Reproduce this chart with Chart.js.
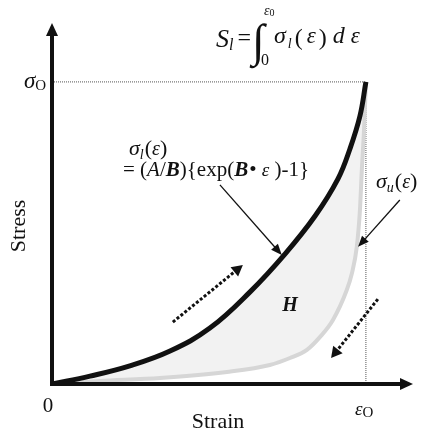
<!DOCTYPE html>
<html>
<head>
<meta charset="utf-8">
<script src="https://cdn.jsdelivr.net/npm/chart.js@4"></script>
<style>
  html, body { margin: 0; padding: 0; background: #fff; }
  canvas { display: block; }
</style>
</head>
<body>
<canvas id="chart" width="434" height="437"></canvas>
<script>
// loading curve sigma_l (strain / eps0, stress / sigma0)
const loadStrain = [0, 0.121, 0.248, 0.376, 0.503, 0.631, 0.742, 0.838, 0.911, 0.949, 0.981, 1.0];
const loadStress = [0, 0.026, 0.060, 0.109, 0.185, 0.305, 0.430, 0.556, 0.679, 0.778, 0.887, 1.0];

// unloading curve sigma_u
const unloadStrain = [0, 0.153, 0.344, 0.557, 0.694, 0.758, 0.812, 0.854, 0.895, 0.939, 0.955, 0.971, 0.981, 0.987, 0.994, 1.0];
const unloadStress = [0, 0.010, 0.020, 0.040, 0.063, 0.086, 0.113, 0.156, 0.212, 0.311, 0.365, 0.454, 0.576, 0.709, 0.841, 1.0];

// reference lines at sigma0 and eps0
const refStrain = [0, 1, 1];
const refStress = [1, 1, 0];

// annotation arrows [fromStrain, fromStress, toStrain, toStress]
const solidArrows = [
    [0.535, 0.659, 0.732, 0.427],
    [1.108, 0.609, 0.975, 0.454]
];
const dottedArrows = [
    [0.385, 0.205, 0.608, 0.394],
    [1.038, 0.281, 0.889, 0.086]
];

const toPoints = (xs, ys) => xs.map((x, i) => ({ x: x, y: ys[i] }));

const SERIF = '"Liberation Serif", "DejaVu Serif", serif';

function runs(ctx, x, y, parts) {
    // draws pieces of text one after another on a common baseline
    parts.forEach(p => {
        ctx.font = p[1] + ' ' + SERIF;
        ctx.fillText(p[0], x, y + (p[2] || 0));
        x += ctx.measureText(p[0]).width + (p[3] || 0);
    });
}

function arrowHead(ctx, x0, y0, x1, y1, len, half) {
    const a = Math.atan2(y1 - y0, x1 - x0);
    ctx.beginPath();
    ctx.moveTo(x1, y1);
    ctx.lineTo(x1 - len * Math.cos(a) + half * Math.sin(a), y1 - len * Math.sin(a) - half * Math.cos(a));
    ctx.lineTo(x1 - len * Math.cos(a) - half * Math.sin(a), y1 - len * Math.sin(a) + half * Math.cos(a));
    ctx.closePath();
    ctx.fill();
}

const drawings = {
    id: 'drawings',
    afterDraw(chart) {
        const ctx = chart.ctx;
        const sx = chart.scales.x, sy = chart.scales.y;
        const px = v => sx.getPixelForValue(v);
        const py = v => sy.getPixelForValue(v);
        const ox = px(0), oy = py(0);
        const ca = chart.chartArea;

        ctx.save();
        ctx.fillStyle = '#111';
        ctx.strokeStyle = '#111';

        // axes with arrow heads
        ctx.lineWidth = 4;
        ctx.beginPath();
        ctx.moveTo(ox, oy);
        ctx.lineTo(ox, ca.top + 10);
        ctx.moveTo(ox - 2, oy);
        ctx.lineTo(ca.right - 10, oy);
        ctx.stroke();
        arrowHead(ctx, ox, oy, ox, ca.top, 13, 6);
        arrowHead(ctx, ox, oy, ca.right, oy, 13, 6);

        // thin arrows
        ctx.lineWidth = 1.3;
        solidArrows.forEach(a => {
            const x0 = px(a[0]), y0 = py(a[1]), x1 = px(a[2]), y1 = py(a[3]);
            const ang = Math.atan2(y1 - y0, x1 - x0);
            ctx.beginPath();
            ctx.moveTo(x0, y0);
            ctx.lineTo(x1 - 8 * Math.cos(ang), y1 - 8 * Math.sin(ang));
            ctx.stroke();
            arrowHead(ctx, x0, y0, x1, y1, 11, 4.5);
        });

        // dotted arrows
        ctx.lineWidth = 3;
        ctx.setLineDash([3, 2]);
        dottedArrows.forEach(a => {
            const x0 = px(a[0]), y0 = py(a[1]), x1 = px(a[2]), y1 = py(a[3]);
            const ang = Math.atan2(y1 - y0, x1 - x0);
            ctx.beginPath();
            ctx.moveTo(x0, y0);
            ctx.lineTo(x1 - 9 * Math.cos(ang), y1 - 9 * Math.sin(ang));
            ctx.stroke();
        });
        ctx.setLineDash([]);
        dottedArrows.forEach(a => {
            arrowHead(ctx, px(a[0]), py(a[1]), px(a[2]), py(a[3]), 11, 6);
        });

        // axis labels
        ctx.textBaseline = 'alphabetic';
        ctx.textAlign = 'center';
        ctx.font = '22px ' + SERIF;
        ctx.fillText('Strain', 218, 428);
        ctx.font = '21px ' + SERIF;
        ctx.fillText('0', 48, 412);
        ctx.save();
        ctx.translate(25, 226);
        ctx.rotate(-Math.PI / 2);
        ctx.font = '22px ' + SERIF;
        ctx.fillText('Stress', 0, 0);
        ctx.restore();

        ctx.textAlign = 'left';
        runs(ctx, 24, 88, [['σ', 'italic 23px'], ['O', '15px', 2]]);
        runs(ctx, 355, 415, [['ε', 'italic 19px'], ['O', '15px', 2]]);

        // integral formula
        runs(ctx, 216, 47, [['S', 'italic 26px'], ['l', 'italic 16px', 3, 4], ['=', '24px', -2]]);
        ctx.font = '46px ' + SERIF;
        ctx.fillText('∫', 252, 56);
        runs(ctx, 264, 15, [['ε', 'italic 14px'], ['0', '10px', 1]]);
        ctx.font = '16px ' + SERIF;
        ctx.fillText('0', 261, 65);
        runs(ctx, 274, 43, [['σ', 'italic 24px', 0, 2], ['l', 'italic 14px', 5, 3], ['(', '24px', 2, 4],
            ['ε', 'italic 23px', 0, 3], [')', '24px', 2, 6], ['d', 'italic 24px', 0, 6], ['ε', 'italic 23px']]);

        // loading curve label
        runs(ctx, 129, 155, [['σ', 'italic 22px'], ['l', 'italic 14px', 4, 1], ['(', '22px'], ['ε', 'italic 20px'], [')', '22px']]);
        runs(ctx, 123, 176, [['= (', '21px'], ['A', 'italic 21px'], ['/', '21px'], ['B', 'bold italic 21px'],
            ['){exp(', '21px'], ['B', 'bold italic 21px', 0, 1], ['• ', '21px'], ['ε', 'italic 19px'], [' )-1}', '21px']]);

        // unloading curve label
        runs(ctx, 376, 188, [['σ', 'italic 22px'], ['u', 'italic 14px', 4, 1], ['(', '22px'], ['ε', 'italic 20px'], [')', '22px']]);

        // hysteresis area
        ctx.textAlign = 'center';
        ctx.font = 'bold italic 20px ' + SERIF;
        ctx.fillText('H', 290, 311);

        ctx.restore();
    }
};

new Chart(document.getElementById('chart'), {
    type: 'line',
    data: {
        datasets: [
            {
                label: 'loading',
                data: toPoints(loadStrain, loadStress),
                borderColor: '#111',
                borderWidth: 5,
                pointRadius: 0,
                tension: 0.4,
                fill: false,
                order: 0
            },
            {
                label: 'unloading',
                data: toPoints(unloadStrain, unloadStress),
                borderColor: '#d6d6d6',
                borderWidth: 4,
                pointRadius: 0,
                cubicInterpolationMode: 'monotone',
                fill: { target: 0 },
                backgroundColor: '#f2f2f2',
                order: 1
            },
            {
                label: 'reference',
                data: toPoints(refStrain, refStress),
                borderColor: '#555',
                borderWidth: 1,
                borderDash: [1, 1],
                pointRadius: 0,
                tension: 0,
                fill: false,
                order: 2
            }
        ]
    },
    options: {
        responsive: false,
        animation: false,
        devicePixelRatio: 1,
        layout: { padding: { left: 52, right: 21, top: 23, bottom: 53 } },
        scales: {
            x: { type: 'linear', min: 0, max: 1.15, display: false },
            y: { type: 'linear', min: 0, max: 1.195, display: false }
        },
        plugins: {
            legend: { display: false },
            tooltip: { enabled: false },
            filler: { drawTime: 'beforeDatasetsDraw' }
        }
    },
    plugins: [drawings]
});
</script>
</body>
</html>
